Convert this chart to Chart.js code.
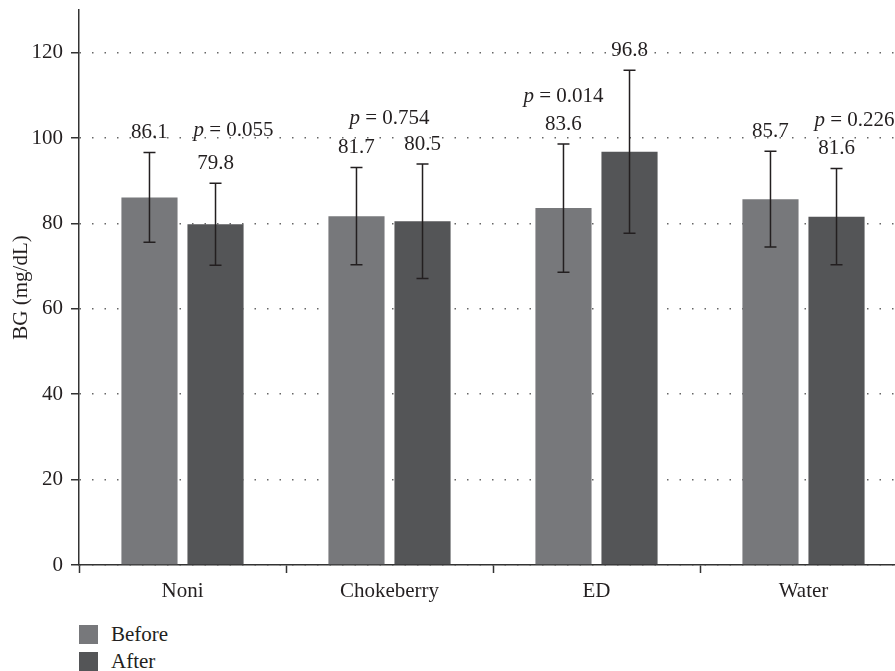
<!DOCTYPE html>
<html>
<head>
<meta charset="utf-8">
<script src="https://cdn.jsdelivr.net/npm/chart.js@4/dist/chart.umd.min.js"></script>
<style>
  html, body { margin: 0; padding: 0; overflow: hidden; background: #fff; }
  #wrap { position: absolute; left: 0; top: 0; width: 910px; height: 610px; }
  #legend { position: absolute; left: 79px; top: 625px; font-family: "Liberation Serif", serif; font-size: 21px; color: #231f20; }
  #legend .row { display: flex; align-items: center; height: 19px; margin-bottom: 8px; }
  #legend .box { width: 19px; height: 19px; margin-right: 13px; }
</style>
</head>
<body>
<div id="wrap"><canvas id="chart"></canvas></div>
<div id="legend"></div>
<script>
const categories = ['Noni', 'Chokeberry', 'ED', 'Water'];
const beforeMeans = [86.1, 81.7, 83.6, 85.7];
const afterMeans = [79.8, 80.5, 96.8, 81.6];
const beforeSD = [10.5, 11.4, 15.0, 11.2];
const afterSD = [9.6, 13.4, 19.1, 11.3];
const pValues = ['0.055', '0.754', '0.014', '0.226'];

const FONT = '"Liberation Serif", serif';
const SIZE = 21;
const INK = '#231f20';

// error bars, value labels, p labels
const annotate = {
  id: 'annotate',
  afterDatasetsDraw(chart) {
    const ctx = chart.ctx;
    const y = chart.scales.y;
    const sds = [beforeSD, afterSD];
    const labelY = [[], []];
    ctx.save();
    ctx.strokeStyle = INK;
    ctx.lineWidth = 1.5;
    ctx.fillStyle = INK;
    ctx.font = SIZE + 'px ' + FONT;
    ctx.textAlign = 'center';
    ctx.textBaseline = 'middle';
    chart.data.datasets.forEach((ds, d) => {
      chart.getDatasetMeta(d).data.forEach((bar, i) => {
        const v = ds.data[i];
        const top = y.getPixelForValue(v + sds[d][i]);
        const bot = y.getPixelForValue(v - sds[d][i]);
        ctx.beginPath();
        ctx.moveTo(bar.x, top); ctx.lineTo(bar.x, bot);
        ctx.moveTo(bar.x - 6, top); ctx.lineTo(bar.x + 6, top);
        ctx.moveTo(bar.x - 6, bot); ctx.lineTo(bar.x + 6, bot);
        ctx.stroke();
        const ly = top - 20;
        labelY[d][i] = ly;
        ctx.fillText(v.toFixed(1), bar.x, ly);
      });
    });
    // p label above the lower of the two value labels
    const b = chart.getDatasetMeta(0).data;
    const a = chart.getDatasetMeta(1).data;
    pValues.forEach((p, i) => {
      const diff = labelY[1][i] - labelY[0][i];
      let px, py;
      if (Math.abs(diff) < 8) {
        px = (b[i].x + a[i].x) / 2;
        py = Math.min(labelY[0][i], labelY[1][i]) - 26;
      } else if (diff > 0) {
        px = a[i].x + 18;
        py = Math.min(labelY[1][i] - 28, labelY[0][i] - 2);
      } else {
        px = b[i].x;
        py = labelY[0][i] - 28;
      }
      ctx.font = 'italic ' + SIZE + 'px ' + FONT;
      const w1 = ctx.measureText('p').width;
      ctx.font = SIZE + 'px ' + FONT;
      const rest = ' = ' + p;
      const w2 = ctx.measureText(rest).width;
      const x0 = px - (w1 + w2) / 2;
      ctx.textAlign = 'left';
      ctx.font = 'italic ' + SIZE + 'px ' + FONT;
      ctx.fillText('p', x0, py);
      ctx.font = SIZE + 'px ' + FONT;
      ctx.fillText(rest, x0 + w1, py);
      ctx.textAlign = 'center';
    });
    ctx.restore();
  }
};

const chart = new Chart(document.getElementById('chart'), {
  type: 'bar',
  data: {
    labels: categories,
    datasets: [
      { label: 'Before', data: beforeMeans, backgroundColor: '#77787b' },
      { label: 'After', data: afterMeans, backgroundColor: '#545557' }
    ]
  },
  options: {
    responsive: true,
    maintainAspectRatio: false,
    animation: false,
    categoryPercentage: 0.638,
    barPercentage: 0.85,
    layout: { padding: { top: 10, right: 3, left: 0, bottom: 0 } },
    plugins: {
      legend: { display: false },
      tooltip: { enabled: false }
    },
    scales: {
      x: {
        afterFit: s => { s.height = 45; },
        grid: { drawOnChartArea: false, drawTicks: true, tickLength: 8, tickColor: '#333', tickWidth: 1.5 },
        border: { color: '#333', width: 1.5 },
        ticks: { color: INK, font: { family: FONT, size: SIZE }, padding: 6 }
      },
      y: {
        min: 0,
        max: 130,
        afterFit: s => { s.width = 79; s.paddingTop = 0; s.paddingBottom = 0; },
        afterBuildTicks: s => { s.ticks = s.ticks.filter(t => t.value % 20 === 0); },
        grid: { color: '#666', lineWidth: 1.5, tickLength: 8, tickColor: '#333', tickWidth: 1.5, tickBorderDash: [] },
        border: { color: '#333', width: 1.5, dash: [1.5, 11] },
        ticks: { stepSize: 20, color: INK, font: { family: FONT, size: SIZE }, padding: 8 },
        title: { display: true, text: 'BG (mg/dL)', color: INK, font: { family: FONT, size: SIZE }, padding: { top: 9, bottom: 0 } }
      }
    }
  },
  plugins: [annotate]
});

// legend as a vertical list
const legend = document.getElementById('legend');
chart.data.datasets.forEach(ds => {
  const row = document.createElement('div');
  row.className = 'row';
  row.innerHTML = `<span class="box" style="background:${ds.backgroundColor}"></span><span>${ds.label}</span>`;
  legend.appendChild(row);
});
</script>
</body>
</html>
